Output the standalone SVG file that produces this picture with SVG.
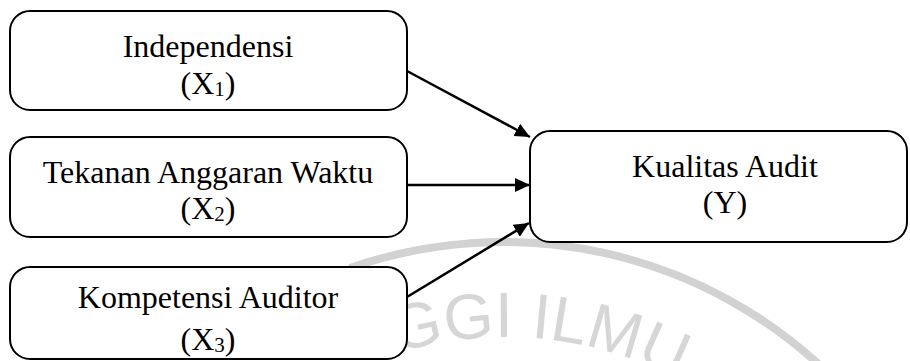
<svg xmlns="http://www.w3.org/2000/svg" width="910" height="361" viewBox="0 0 910 361">
  <style>
    .box { fill: #ffffff; stroke: #000000; stroke-width: 2; }
    .lbl { font-family: "Liberation Serif", "Times New Roman", serif; font-size: 32px; fill: #000000; text-anchor: middle; }
    .sub { font-size: 21px; }
    .conn { stroke: #000000; stroke-width: 2.5; fill: none; marker-end: url(#arrow); }
    .wm { fill: none; stroke: #d2d2d2; stroke-width: 8; }
    .wmtext { font-family: "Liberation Sans", Arial, sans-serif; font-size: 64px; fill: #d6d6d6; }
  </style>
  <defs>
    <marker id="arrow" markerUnits="userSpaceOnUse" markerWidth="16" markerHeight="15" refX="15" refY="7" orient="auto">
      <path d="M0,0 L15,7 L0,14 Z" fill="#000000"/>
    </marker>
    <path id="wmArc" d="M 266 424 A 372 372 0 0 1 744 424"/>
  </defs>
  <rect width="910" height="361" fill="#ffffff"/>
  <g id="watermark">
    <path class="wm" d="M 350 268 A 467 467 0 0 1 830 375"/>
    <text class="wmtext"><textPath href="#wmArc" startOffset="150">GGI ILMU</textPath></text>
  </g>
  <g id="connectors">
    <line class="conn" x1="407" y1="71" x2="530" y2="137"/>
    <line class="conn" x1="407" y1="185" x2="530" y2="185"/>
    <line class="conn" x1="407" y1="297" x2="529" y2="223"/>
  </g>
  <g id="node-x1">
    <rect class="box" x="10" y="11" width="397" height="99" rx="20" ry="20"/>
    <text class="lbl" x="208" y="57">Independensi</text>
    <text class="lbl" x="208" y="94">(X<tspan class="sub" dy="2">1</tspan><tspan dy="-2">)</tspan></text>
  </g>
  <g id="node-x2">
    <rect class="box" x="10" y="137" width="397" height="100" rx="20" ry="20"/>
    <text class="lbl" x="208" y="183">Tekanan Anggaran Waktu</text>
    <text class="lbl" x="208" y="219">(X<tspan class="sub" dy="2">2</tspan><tspan dy="-2">)</tspan></text>
  </g>
  <g id="node-x3">
    <rect class="box" x="10" y="267" width="397" height="92" rx="20" ry="20"/>
    <text class="lbl" x="208" y="308">Kompetensi Auditor</text>
    <text class="lbl" x="208" y="350">(X<tspan class="sub" dy="2">3</tspan><tspan dy="-2">)</tspan></text>
  </g>
  <g id="node-y">
    <rect class="box" x="530" y="131" width="377" height="111" rx="20" ry="20"/>
    <text class="lbl" x="725" y="177">Kualitas Audit</text>
    <text class="lbl" x="725" y="213">(Y)</text>
  </g>
</svg>
